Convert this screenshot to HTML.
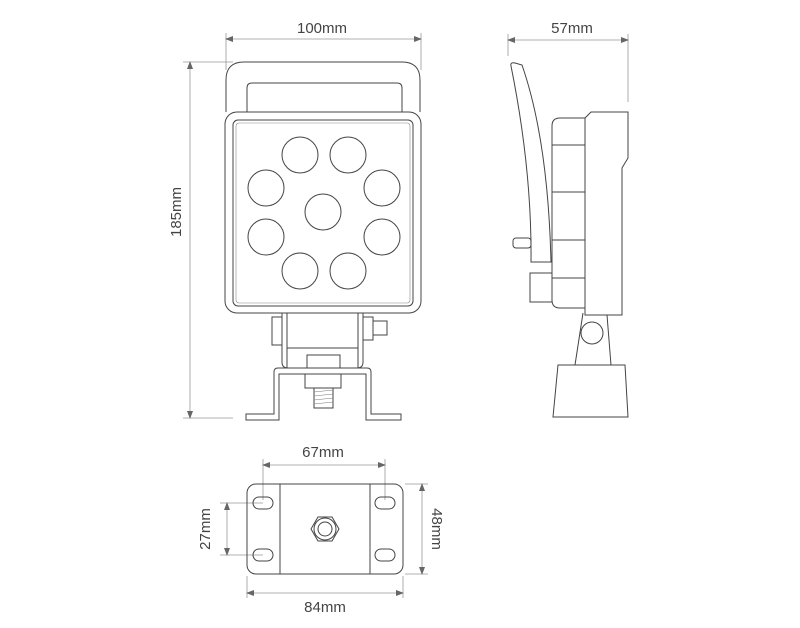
<!DOCTYPE html>
<html><head><meta charset="utf-8"><style>html,body{margin:0;padding:0;background:#fff}svg{display:block}</style></head>
<body>
<svg width="800" height="628" viewBox="0 0 800 628" xmlns="http://www.w3.org/2000/svg">
<defs>
<marker id="a" markerWidth="8" markerHeight="6" refX="7" refY="3" orient="auto-start-reverse" markerUnits="userSpaceOnUse"><path d="M0,0 L8,3 L0,6 z" fill="#666"/></marker>
</defs>
<g font-family="Liberation Sans, sans-serif" font-size="15" fill="#444" text-anchor="middle">
<text x="322" y="33">100mm</text>
<text x="572" y="33">57mm</text>
<text x="323" y="457">67mm</text>
<text x="325" y="612">84mm</text>
<text transform="translate(181,212) rotate(-90)">185mm</text>
<text transform="translate(210,529) rotate(-90)">27mm</text>
<text transform="translate(432,529) rotate(90)">48mm</text>
</g>
<g stroke="#999" stroke-width="0.8" fill="none">
<line x1="226" y1="33" x2="226" y2="70"/><line x1="421" y1="33" x2="421" y2="70"/>
<line x1="226" y1="39" x2="421" y2="39" marker-start="url(#a)" marker-end="url(#a)"/>
<line x1="183" y1="62" x2="233" y2="62"/><line x1="183" y1="418" x2="233" y2="418"/>
<line x1="190" y1="62" x2="190" y2="418" marker-start="url(#a)" marker-end="url(#a)"/>
<line x1="508" y1="34" x2="508" y2="56"/><line x1="628" y1="34" x2="628" y2="102"/>
<line x1="508" y1="40" x2="628" y2="40" marker-start="url(#a)" marker-end="url(#a)"/>
<line x1="263" y1="459" x2="263" y2="500"/><line x1="385" y1="459" x2="385" y2="500"/>
<line x1="263" y1="465" x2="385" y2="465" marker-start="url(#a)" marker-end="url(#a)"/>
<line x1="247" y1="576" x2="247" y2="598"/><line x1="403" y1="576" x2="403" y2="598"/>
<line x1="247" y1="593" x2="403" y2="593" marker-start="url(#a)" marker-end="url(#a)"/>
<line x1="405" y1="484" x2="428" y2="484"/><line x1="405" y1="574" x2="428" y2="574"/>
<line x1="422" y1="484" x2="422" y2="574" marker-start="url(#a)" marker-end="url(#a)"/>
<line x1="220" y1="503" x2="263" y2="503"/><line x1="220" y1="555" x2="263" y2="555"/>
<line x1="227" y1="503" x2="227" y2="555" marker-start="url(#a)" marker-end="url(#a)"/>
</g>
<g stroke="#444" stroke-width="1" fill="none">
<!-- front view -->
<path d="M226,112 V80 Q226,62 244,62 H402 Q420,62 420,80 V112"/>
<path d="M247,112 V88 Q247,83 252,83 H397 Q402,83 402,88 V112"/>
<rect x="225" y="112" width="196" height="201" rx="12"/>
<rect x="233" y="120" width="180" height="186" rx="5"/>
<rect x="236" y="123" width="174" height="180" rx="3" stroke="#888" stroke-width="0.6"/>
<circle cx="300" cy="155" r="18"/><circle cx="348" cy="155" r="18"/>
<circle cx="266" cy="188" r="18"/><circle cx="382" cy="188" r="18"/>
<circle cx="323" cy="212" r="18"/>
<circle cx="266" cy="237" r="18"/><circle cx="382" cy="237" r="18"/>
<circle cx="300" cy="271" r="18"/><circle cx="348" cy="271" r="18"/>
<path d="M282,313 V362 Q282,368 288,368 H357 Q363,368 363,362 V313"/>
<line x1="287" y1="348" x2="358" y2="348"/>
<line x1="287" y1="313" x2="287" y2="368"/><line x1="358" y1="313" x2="358" y2="368"/>
<rect x="272" y="317" width="10" height="28"/>
<rect x="363" y="317" width="10" height="23"/><rect x="373" y="321" width="14" height="14"/>
<path d="M246,420 V414 H274 V372 Q274,368 278,368 H367 Q371,368 371,372 V414 H401 V420 H366 V374 H279 V420 Z"/>
<rect x="307" y="355" width="33" height="13"/>
<rect x="305" y="374" width="36" height="14"/>
<rect x="314" y="388" width="19" height="20"/>
<g stroke="#777" stroke-width="0.6"><line x1="314" y1="392" x2="333" y2="390"/><line x1="314" y1="396" x2="333" y2="394"/><line x1="314" y1="400" x2="333" y2="398"/><line x1="314" y1="404" x2="333" y2="402"/></g>
<!-- side view -->
<path d="M511,66 Q510,62 515,63 L522,65 Q548,140 551,262 H531 Q532,170 511,66 Z"/>
<rect x="513" y="238" width="18" height="10" rx="3"/>
<path d="M585,118 H560 Q552,118 552,126 V300 Q552,308 560,308 H585"/>
<line x1="552" y1="145" x2="585" y2="145"/><line x1="552" y1="192" x2="585" y2="192"/>
<line x1="552" y1="240" x2="585" y2="240"/><line x1="552" y1="278" x2="585" y2="278"/>
<path d="M585,118 L591,112 H628 V158 L622,168 V315 H585 Z"/>
<rect x="530" y="273" width="22" height="29"/>
<circle cx="592" cy="333" r="11"/>
<path d="M583,313 L575,365 M607,315 L611,365"/>
<path d="M558,365 H625 L628,417 H553 Z"/>
<!-- bottom view -->
<rect x="247" y="484" width="156" height="90" rx="9"/>
<line x1="280" y1="484" x2="280" y2="574"/><line x1="370" y1="484" x2="370" y2="574"/>
<rect x="253" y="497" width="20" height="12" rx="6"/><rect x="253" y="549" width="20" height="12" rx="6"/>
<rect x="375" y="497" width="20" height="12" rx="6"/><rect x="375" y="549" width="20" height="12" rx="6"/>
<polygon points="311,529 318,517 332,517 339,529 332,541 318,541"/>
<circle cx="325" cy="529" r="11"/>
<circle cx="325" cy="529" r="7"/>
</g>
</svg>
</body></html>
